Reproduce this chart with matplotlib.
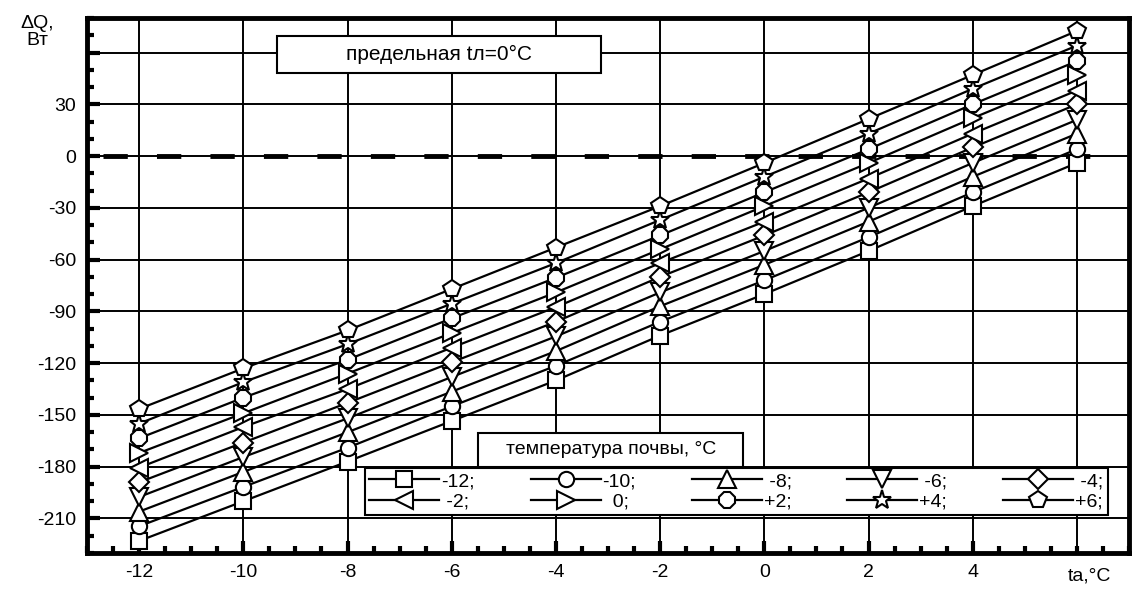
import matplotlib
matplotlib.use('Agg')
import matplotlib.pyplot as plt
from matplotlib.patches import Rectangle
from matplotlib.ticker import MultipleLocator, FixedLocator

plt.rcParams['font.family'] = ['Liberation Sans', 'DejaVu Sans']

# air temperature, °C
ta = [-12, -10, -8, -6, -4, -2, 0, 2, 4, 6]

# heat balance dQ (W) for each soil temperature
dq_m12 = [-223, -200, -177, -153.5, -130, -104, -80, -55, -29, -4]
dq_m10 = [-214.5, -191.7, -169, -145, -121.5, -96, -72, -47, -21, 4]
dq_m8 = [-206, -183, -160, -136.5, -113, -87, -63, -38, -12, 13]
dq_m6 = [-197.5, -174.4, -152, -128, -104.5, -79, -55, -30, -4, 21]
dq_m4 = [-189, -166, -143, -119.5, -96, -70, -46, -21, 5, 30]
dq_m2 = [-180.5, -157, -135, -111, -87.5, -62, -38, -13, 13, 38]
dq_0 = [-172, -149, -126, -102.5, -79, -54, -29, -4, 22, 47]
dq_p2 = [-163.5, -140, -118, -94, -70.5, -46, -21, 4, 30, 55]
dq_p4 = [-155, -131, -109, -85.5, -62, -37, -12, 13, 39, 64]
dq_p6 = [-146.5, -123, -101, -77, -53, -29, -4, 21.5, 47, 72.5]

series = [dq_m12, dq_m10, dq_m8, dq_m6, dq_m4, dq_m2, dq_0, dq_p2, dq_p4, dq_p6]
labels = ['-12;', '-10;', ' -8;', ' -6;', ' -4;', ' -2;', '  0;', '+2;', '+4;', '+6;']
markers = ['s', 'o', '^', 'v', 'D', '<', '>', '8', '*', 'p']
msizes = [11, 11, 13, 13, 10, 13, 13, 12, 14, 13]

x_ticks = [-12, -10, -8, -6, -4, -2, 0, 2, 4]
y_ticks = [30, 0, -30, -60, -90, -120, -150, -180, -210]


def main():
    fig = plt.figure(figsize=(11.35, 5.89), dpi=100)
    ax = fig.add_axes([0.0767, 0.0611, 0.918, 0.9083])

    ax.set_xlim(-13, 7)
    ax.set_ylim(-230, 80)

    # grid
    for gx in [-12, -10, -8, -6, -4, -2, 0, 2, 4, 6]:
        ax.axvline(gx, color='black', lw=1.4, zorder=1)
    for gy in [60, 30, 0, -30, -60, -90, -120, -150, -180, -210]:
        ax.axhline(gy, color='black', lw=1.4, zorder=1)

    # limiting line tl = 0
    ax.plot([-12.7, 6.3], [0, 0], color='black', lw=3.5, dashes=(5, 6), zorder=2)

    handles = []
    for vals, lab, m, ms in zip(series, labels, markers, msizes):
        h, = ax.plot(ta, vals, color='black', lw=1.6, marker=m, ms=ms,
                     mfc='white', mec='black', mew=1.5, label=lab, zorder=3)
        handles.append(h)

    ax.xaxis.set_major_locator(FixedLocator(x_ticks))
    ax.yaxis.set_major_locator(FixedLocator(y_ticks + [60]))
    ax.xaxis.set_minor_locator(MultipleLocator(0.5))
    ax.yaxis.set_minor_locator(MultipleLocator(10))
    ax.set_xticklabels([str(v) for v in x_ticks])
    ax.set_yticklabels([str(v) for v in y_ticks] + [''])
    ax.tick_params(which='major', direction='in', length=9, width=3, labelsize=14, pad=8)
    ax.tick_params(which='minor', direction='in', length=5, width=3)
    ax.tick_params(top=False, right=False, which='both')
    for sp in ax.spines.values():
        sp.set_linewidth(3.5)

    # box with the limiting temperature note
    ax.add_patch(Rectangle((-9.36, 48), 6.23, 21.5, fc='white', ec='black', lw=1.5, zorder=6))
    ax.text(-6.245, 58.8, 'предельная tл=0°C', fontsize=15, ha='center', va='center', zorder=7)

    fig.text(0.033, 0.975, 'ΔQ,\nBт', fontsize=14, ha='center', va='top', linespacing=1.05)
    fig.text(0.96, 0.022, 'ta,°C', fontsize=14, ha='center', va='center')

    # row-wise legend order
    order = [0, 5, 1, 6, 2, 7, 3, 8, 4, 9]
    leg = ax.legend([handles[i] for i in order], [labels[i] for i in order], ncol=5,
                    loc='lower left', bbox_to_anchor=(0.257, 0.052, 0.732, 0.118),
                    mode='expand', fontsize=14, fancybox=False, framealpha=1,
                    edgecolor='black', handlelength=3.6, handletextpad=0.1,
                    columnspacing=0.6, borderpad=0.25, labelspacing=0.15)
    leg.get_frame().set_linewidth(1.5)
    leg.set_zorder(7)

    # legend title in its own box
    ax.add_patch(Rectangle((-5.49, -180.2), 5.09, 19.8, fc='white', ec='black', lw=1.5, zorder=8))
    ax.text(-2.945, -170.3, 'температура почвы, °C', fontsize=14,
            ha='center', va='center', zorder=9)

    fig.savefig('out.png', dpi=100)


main()
